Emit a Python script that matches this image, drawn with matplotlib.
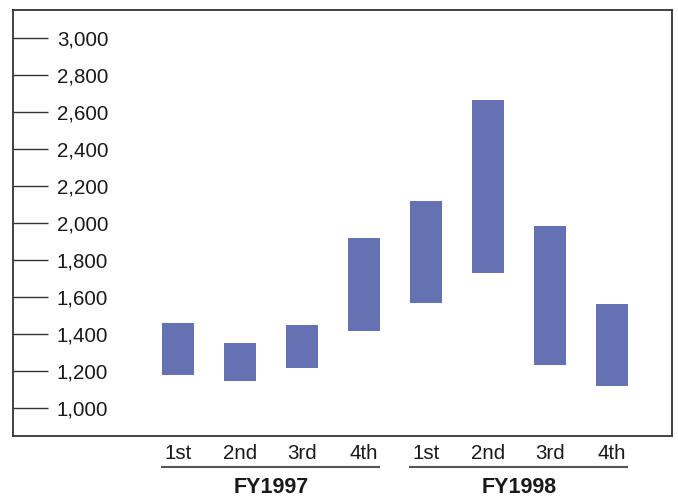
import matplotlib
matplotlib.use("Agg")
import matplotlib.pyplot as plt
import matplotlib.transforms as mtransforms

quarters = ["1st", "2nd", "3rd", "4th", "1st", "2nd", "3rd", "4th"]
groups = ["FY1997", "FY1998"]
lows = [1180, 1145, 1215, 1415, 1570, 1730, 1230, 1120]
highs = [1460, 1350, 1450, 1920, 2120, 2665, 1985, 1562]
yticks = [1000, 1200, 1400, 1600, 1800, 2000, 2200, 2400, 2600, 2800, 3000]

plt.rcParams['font.family'] = ['Liberation Sans', 'DejaVu Sans']
TXT = '#1a1a1a'
BAR = '#6472b3'

fig = plt.figure(figsize=(6.78, 4.97), dpi=100)
ax = fig.add_axes([13/678, (497-436)/497, 659/678, 426/497])

x = list(range(len(quarters)))
heights = [h - l for h, l in zip(highs, lows)]
ax.bar(x, heights, bottom=lows, width=0.516, color=BAR, linewidth=0)

ax.set_xlim(-2.66, 7.97)
ax.set_ylim(849, 3151)

for s in ax.spines.values():
    s.set_color('#333333')
    s.set_linewidth(1.3)

ax.set_yticks(yticks)
ax.set_yticklabels([f"{v:,}" for v in yticks])
ax.tick_params(axis='y', direction='in', length=25.2, width=1, color='#333333',
               pad=-31.5, labelsize=14.8, labelcolor=TXT)
for lab in ax.get_yticklabels():
    lab.set_horizontalalignment('left')

ax.set_xticks(x)
ax.set_xticklabels(quarters)
ax.tick_params(axis='x', length=0, pad=5.5, labelsize=14.8, labelcolor=TXT)

trans = mtransforms.blended_transform_factory(ax.transData, ax.transAxes)
for gi, g in enumerate(groups):
    start = gi * 4
    ax.plot([start - 0.27, start + 3.26], [-0.0728, -0.0728], transform=trans,
            color='#555555', lw=1.5, clip_on=False, solid_capstyle='butt')
    ax.text(start + 1.5, -0.122, g, transform=trans, ha='center', va='center',
            fontsize=15.5, fontweight='bold', color=TXT)

fig.savefig("out.png", dpi=100)
